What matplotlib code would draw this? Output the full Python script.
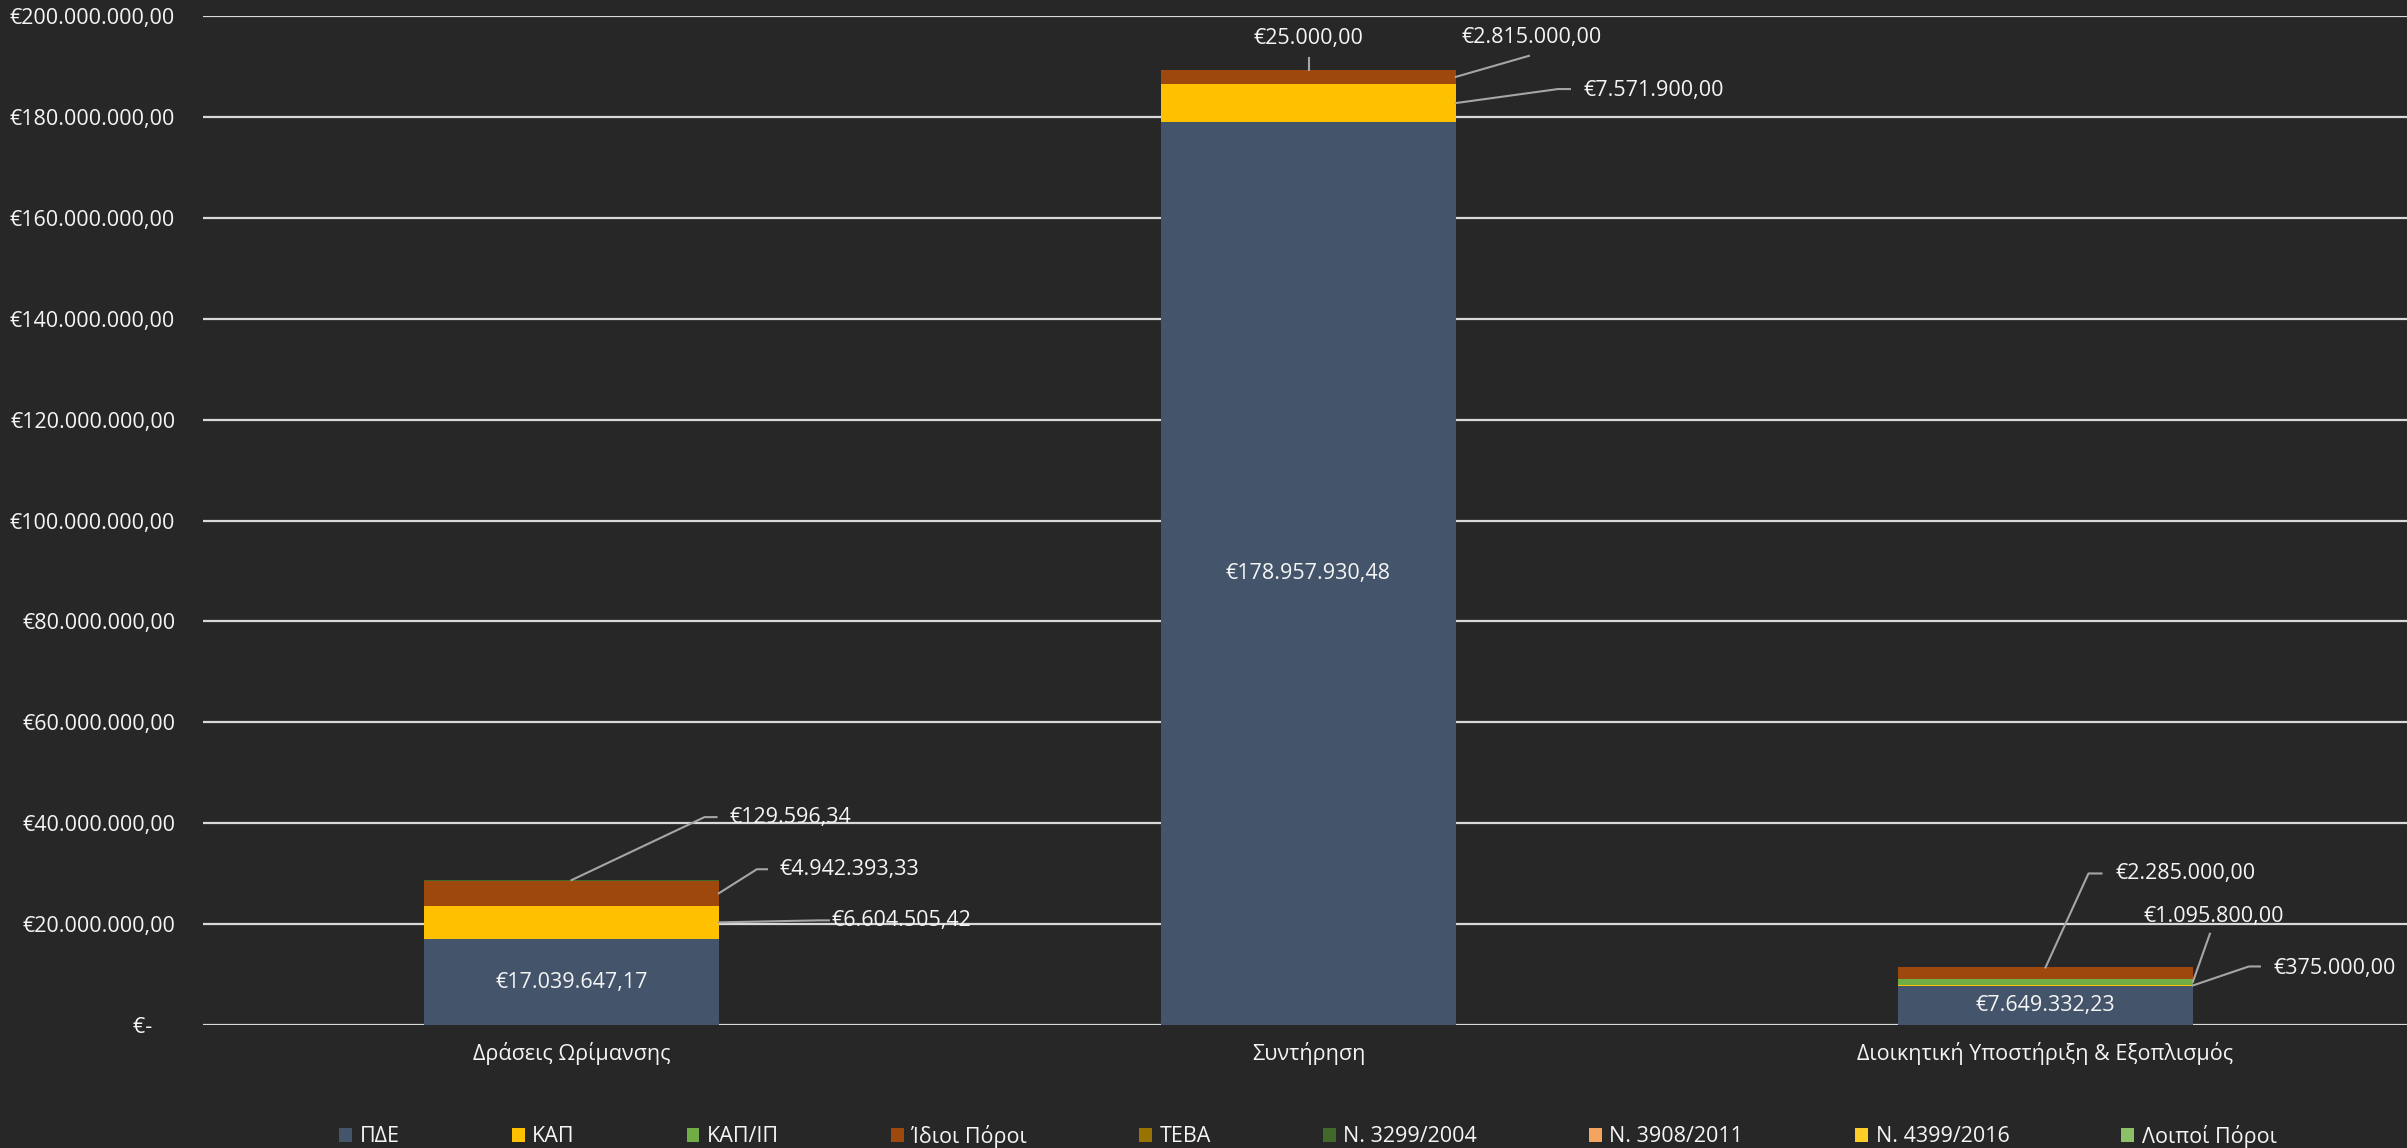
import numpy as np
import matplotlib
matplotlib.use("Agg")
import matplotlib.pyplot as plt
from matplotlib.lines import Line2D
from matplotlib.patches import Patch
from matplotlib.transforms import IdentityTransform

plt.rcParams['font.family'] = ['Open Sans', 'DejaVu Sans']

categories = ["Δράσεις Ωρίμανσης", "Συντήρηση", "Διοικητική Υποστήριξη & Εξοπλισμός"]
series_names = ["ΠΔΕ", "ΚΑΠ", "ΚΑΠ/ΙΠ", "Ίδιοι Πόροι", "ΤΕΒΑ", "N. 3299/2004",
                "N. 3908/2011", "N. 4399/2016", "Λοιποί Πόροι"]
pde = [17039647.17, 178957930.48, 7649332.23]
kap = [6604505.42, 7571900.00, 375000.00]
kap_ip = [0, 0, 1095800.00]
idioi = [4942393.33, 2815000.00, 2285000.00]
teva = [0, 0, 0]
n3299 = [129596.34, 25000.00, 0]
n3908 = [0, 0, 0]
n4399 = [0, 0, 0]
loipoi = [0, 0, 0]
colors = ["#44546A", "#FFC000", "#70AD47", "#9E480E", "#997300", "#43682B",
          "#F4A460", "#FFCD28", "#8CC168"]
yticks = list(range(0, 200000001, 20000000))

series = [pde, kap, kap_ip, idioi, teva, n3299, n3908, n4399, loipoi]

W, H = 2407, 1148
BG = "#272727"
TXT = "#F5F5F5"
FS = 15.5
fig = plt.figure(figsize=(W / 100, H / 100), dpi=100, facecolor=BG)
ax = fig.add_axes([203 / W, (H - 1025) / H, (2414 - 203) / W, (1025 - 16) / H])
ax.set_facecolor("none")

x = np.arange(len(categories))
bw = 0.4
bottoms = np.zeros(len(categories))
tops = []
for vals, c in zip(series, colors):
    v = np.array(vals, dtype=float)
    ax.bar(x, v, bw, bottom=bottoms, color=c, zorder=3, linewidth=0)
    tops.append((bottoms.copy(), bottoms + v))
    bottoms = bottoms + v

ax.set_xlim(-0.5, len(categories) - 0.5)
ax.set_ylim(0, 200000000)


def fmt(v):
    if v == 0:
        return "€-    "
    s = f"{v:,.2f}"
    s = s.replace(",", "X").replace(".", ",").replace("X", ".")
    return "€" + s


ax.set_yticks(yticks)
ax.set_yticklabels([fmt(t) for t in yticks])
ax.yaxis.grid(True, color="#D9D9D9", linewidth=1.6, zorder=1)
ax.set_axisbelow(True)
ax.tick_params(axis="y", length=0, pad=20, labelsize=FS, labelcolor=TXT)
ax.set_xticks(x)
ax.set_xticklabels(categories)
ax.tick_params(axis="x", length=0, pad=12, labelsize=FS, labelcolor=TXT)
for s in ax.spines.values():
    s.set_visible(False)

# centre labels for ΠΔΕ
for i in range(len(categories)):
    ax.text(x[i], pde[i] / 2, fmt(pde[i]), ha="center", va="center",
            fontsize=FS, color=TXT, zorder=5)

# outside labels with leader lines (offsets in image pixels, y down)
LEAD = "#A6A6A6"


def label(si, ci, anchor, pts, txt_off, ha="left"):
    b, t = tops[si]
    if anchor == "right":
        ax_x, ax_y = x[ci] + bw / 2, (b[ci] + t[ci]) / 2
    else:
        ax_x, ax_y = x[ci], t[ci]
    px, py = ax.transData.transform((ax_x, ax_y))
    xs = [px + dx for dx, dy in pts]
    ys = [py - dy for dx, dy in pts]
    fig.add_artist(Line2D(xs, ys, color=LEAD, linewidth=1.5,
                          transform=IdentityTransform(), zorder=6))
    fig.text(px + txt_off[0], py - txt_off[1], fmt(series[si][ci]),
             ha=ha, va="center", fontsize=FS, color=TXT,
             transform=IdentityTransform(), zorder=7)


# Δράσεις Ωρίμανσης
label(1, 0, "right", [(0, 0), (100, -2), (110, -2)], (113, -2))
label(3, 0, "right", [(0, 0), (38, -24), (48, -24)], (61, -24))
label(5, 0, "top", [(0, 0), (133, -63), (145, -63)], (158, -63))
# Συντήρηση
label(1, 1, "right", [(0, 0), (102, -14), (114, -14)], (128, -13))
label(3, 1, "right", [(0, 0), (73, -21)], (6, -39))
label(5, 1, "top", [(0, 0), (0, -12)], (0, -31), ha="center")
# Διοικητική
label(1, 2, "right", [(0, 0), (56, -19), (67, -19)], (81, -17))
label(2, 2, "right", [(0, 0), (17, -48)], (-49, -65))
label(3, 2, "top", [(0, 0), (43, -94), (56, -94)], (70, -94))

handles = [Patch(facecolor=c, edgecolor="none") for c in colors]
leg = ax.legend(handles, series_names, ncol=9, loc="center",
                bbox_to_anchor=(1308 / W, (H - 1136) / H),
                bbox_transform=fig.transFigure, frameon=False, fontsize=FS,
                handlelength=0.6, handleheight=0.6, handletextpad=0.35,
                columnspacing=5.2, borderaxespad=0)
for t in leg.get_texts():
    t.set_color(TXT)

fig.savefig("out.png", dpi=100, facecolor=BG)
